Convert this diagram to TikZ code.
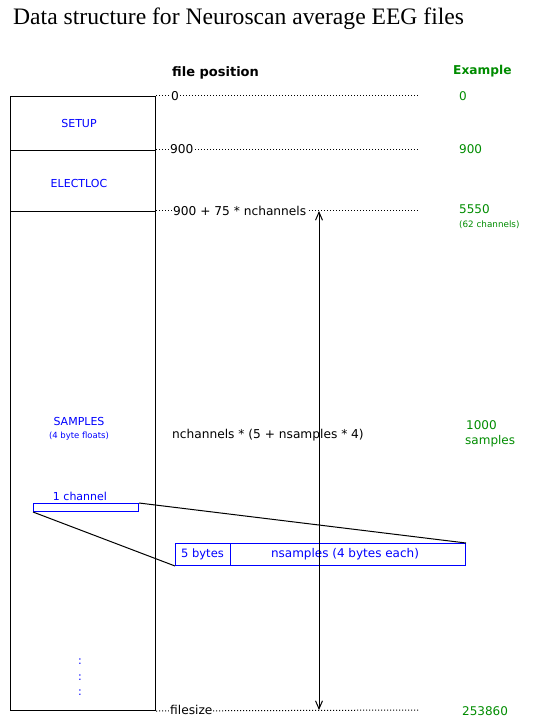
\documentclass[tikz,border=0pt]{standalone}
\usepackage{fontspec}
\setmainfont{Liberation Serif}
\newfontfamily\uifont{DejaVu Sans}
\usetikzlibrary{arrows.meta}
\definecolor{exgreen}{RGB}{0,140,0}
\definecolor{bblue}{RGB}{0,0,255}
\begin{document}
\begin{tikzpicture}[x=1pt,y=-1pt,
  seg/.style={draw=black,line width=1pt,minimum width=145pt,inner sep=0pt,anchor=north west},
  bl/.style={draw=bblue,line width=1pt,inner sep=0pt,anchor=north west},
  lab/.style={font=\uifont\fontsize{12.2}{14}\selectfont,inner sep=1pt,fill=white,anchor=west},
  labt/.style={font=\uifont\fontsize{12.2}{14}\selectfont,inner sep=0pt,anchor=west},
  btxt/.style={font=\uifont\fontsize{11}{13}\selectfont,text=bblue,inner sep=0pt},
  gtxt/.style={font=\uifont\fontsize{12}{14}\selectfont,text=exgreen,inner sep=0pt,anchor=west},
  dotline/.style={line width=1pt,dash pattern=on 1pt off 2pt},
  conn/.style={line width=1pt,black}]
\useasboundingbox (0,0) rectangle (536,727);
% title
\node[anchor=base west,inner sep=0pt,font=\fontsize{23.6}{26}\selectfont] (title) at (13,25) {Data structure for Neuroscan average EEG files};
% headers
\node[anchor=west,inner sep=0pt,font=\uifont\bfseries\fontsize{13}{15}\selectfont] (fp) at (172,73) {file position};
\node[anchor=west,inner sep=0pt,font=\uifont\bfseries\fontsize{12.2}{14}\selectfont,text=exgreen] (ex) at (453,71) {Example};
% main box
\node[seg,minimum height=54pt] (setup) at (10,96) {};
\node[seg,minimum height=61pt] (electloc) at (10,150) {};
\node[seg,minimum height=499pt] (samples) at (10,211) {};
\node[btxt] (tsetup) at (79,123) {SETUP};
\node[btxt] (telectloc) at (79,183) {ELECTLOC};
\node[btxt] (tsamples) at (79,421) {SAMPLES};
\node[btxt,font=\uifont\fontsize{8.5}{10}\selectfont] (tfloats) at (79,436) {(4 byte floats)};
\node[btxt] (tchan) at (80,496) {1 channel};
\node[btxt] (d1) at (80,662) {:};
\node[btxt] (d2) at (80,678) {:};
\node[btxt] (d3) at (80,693) {:};
% channel rect
\node[bl,minimum width=105pt,minimum height=8pt] (chan) at (33,503) {};
% detail box
\node[bl,minimum width=55pt,minimum height=22pt] (five) at (175,543) {};
\node[bl,minimum width=235pt,minimum height=22pt] (nsamp) at (230,543) {};
\node[btxt,font=\uifont\fontsize{11.5}{13}\selectfont] (tfive) at (202.5,554) {5 bytes};
\node[btxt,font=\uifont\fontsize{12}{14}\selectfont] (tnsamp) at (345,554) {nsamples (4 bytes each)};
\draw[conn] (chan.north east) -- (nsamp.north east);
\draw[conn] (chan.south west) -- (five.south west);
% dotted lines
\coordinate (e0) at (418,96);
\coordinate (e1) at (418,150);
\coordinate (e2) at (418,211);
\coordinate (e3) at (418,710);
\draw[dotline] (setup.north east) -- (e0);
\draw[dotline] (electloc.north east) -- (e1);
\draw[dotline] (samples.north east) -- (e2);
\draw[dotline] (samples.south east) -- (e3);
% arrow
\coordinate (atop) at (319,211);
\coordinate (abot) at (319,710);
\draw[conn,{Straight Barb[length=8pt,width=7pt]}-{Straight Barb[length=8pt,width=7pt]}] (atop) -- (abot);
% position labels
\node[lab] (p0) at (170,96) {0};
\node[lab] (p1) at (169,149) {900};
\node[lab] (p2) at (172,211) {900 + 75 * nchannels};
\node[lab] (p3) at (169,710) {filesize};
\node[labt] (p4) at (172,435) {nchannels * (5 + nsamples * 4)};
% example values
\node[gtxt] (g0) at (459,96) {0};
\node[gtxt] (g1) at (459,149) {900};
\node[gtxt] (g2) at (459,209) {5550};
\node[gtxt,font=\uifont\fontsize{8.8}{10}\selectfont] (g2b) at (459,225) {(62 channels)};
\node[gtxt] (g3) at (466,425) {1000};
\node[gtxt] (g3b) at (465,441) {samples};
\node[gtxt] (g4) at (462,711) {253860};
\end{tikzpicture}
\end{document}
